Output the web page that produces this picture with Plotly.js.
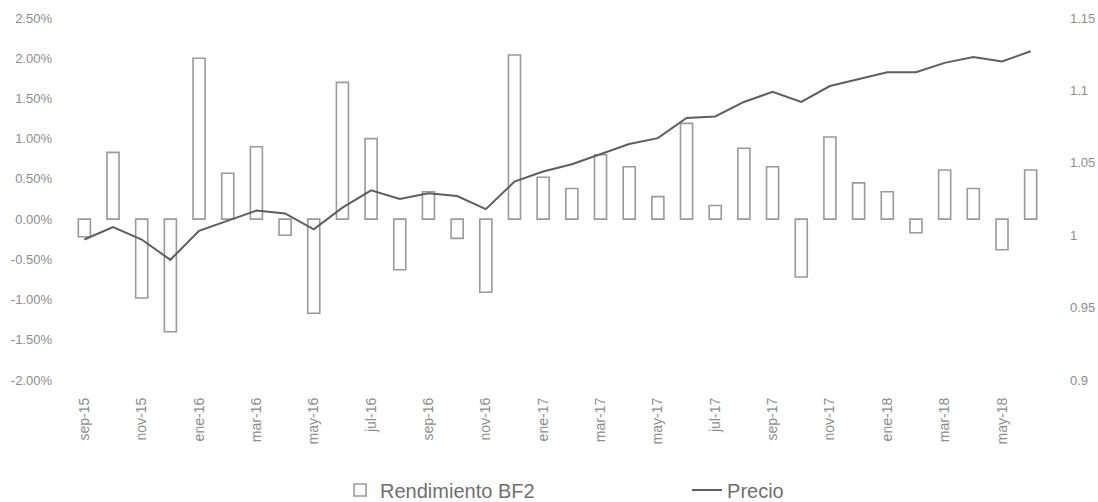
<!DOCTYPE html>
<html>
<head>
<meta charset="utf-8">
<script src="https://cdn.plot.ly/plotly-3.0.1.min.js"></script>
<style>html,body{margin:0;padding:0;background:#fff;}#chart{width:1098px;height:502px;}</style>
</head>
<body>
<div id="chart"></div>
<script>
const months = ["sep-15","oct-15","nov-15","dic-15","ene-16","feb-16","mar-16","abr-16","may-16","jun-16","jul-16","ago-16","sep-16","oct-16","nov-16","dic-16","ene-17","feb-17","mar-17","abr-17","may-17","jun-17","jul-17","ago-17","sep-17","oct-17","nov-17","dic-17","ene-18","feb-18","mar-18","abr-18","may-18","jun-18"];
const rendimiento = [-0.22, 0.83, -0.98, -1.40, 2.00, 0.57, 0.90, -0.20, -1.17, 1.70, 1.00, -0.63, 0.34, -0.24, -0.91, 2.04, 0.52, 0.38, 0.80, 0.65, 0.28, 1.19, 0.17, 0.88, 0.65, -0.72, 1.02, 0.45, 0.34, -0.17, 0.61, 0.38, -0.38, 0.61];
const precio = [0.997, 1.0056, 0.997, 0.983, 1.003, 1.010, 1.017, 1.015, 1.004, 1.019, 1.031, 1.025, 1.029, 1.027, 1.018, 1.037, 1.044, 1.049, 1.056, 1.063, 1.067, 1.081, 1.082, 1.092, 1.099, 1.092, 1.103, 1.108, 1.1125, 1.1125, 1.119, 1.123, 1.120, 1.127];
const xTickLabels = months.filter((m, i) => i % 2 === 0);
const leftTicks = [-2, -1.5, -1, -0.5, 0, 0.5, 1, 1.5, 2, 2.5];
const rightTickVals = [0.9, 0.95, 1, 1.05, 1.1, 1.15];
const rightTickText = ["0.9", "0.95", "1", "1.05", "1.1", "1.15"];

const tickFont = {family: "'Liberation Sans', Arial, sans-serif", size: 13, color: "#8c8c8c"};

const data = [
  {
    type: "bar", name: "Rendimiento BF2", x: months, y: rendimiento,
    marker: {color: "rgba(255,255,255,0)", line: {color: "#9a9a9a", width: 1.6}},
    yaxis: "y"
  },
  {
    type: "scatter", mode: "lines", name: "Precio", x: months, y: precio,
    line: {color: "#5e5e5e", width: 2},
    yaxis: "y2"
  }
];

const layout = {
  width: 1098, height: 502,
  margin: {l: 70, r: 53, t: 18, b: 122, autoexpand: false},
  paper_bgcolor: "#ffffff", plot_bgcolor: "#ffffff",
  bargap: 0.58,
  showlegend: true,
  legend: {
    orientation: "h", xref: "container", yref: "container",
    x: 0.3097, xanchor: "left", y: 0.024, yanchor: "middle",
    font: {family: "'Liberation Sans', Arial, sans-serif", size: 20, color: "#6f6f6f"},
    entrywidth: 302, entrywidthmode: "pixels", traceorder: "normal"
  },
  xaxis: {
    type: "category", tickmode: "array", tickvals: xTickLabels, ticktext: xTickLabels,
    tickangle: -90, tickfont: {family: tickFont.family, size: 14, color: "#8c8c8c"},
    showgrid: false, zeroline: false, showline: false,
    ticks: "", ticklabelstandoff: 14
  },
  yaxis: {
    range: [-2, 2.5], tickmode: "array", tickvals: leftTicks,
    ticktext: leftTicks.map(v => v.toFixed(2) + "%"),
    tickfont: tickFont, showgrid: false, zeroline: false, showline: false, ticks: "",
    ticklabelstandoff: 17
  },
  yaxis2: {
    overlaying: "y", side: "right", range: [0.9, 1.15], tickmode: "array",
    tickvals: rightTickVals, ticktext: rightTickText,
    tickfont: tickFont, showgrid: false, zeroline: false, showline: false, ticks: "",
    ticklabelstandoff: 24
  }
};

Plotly.newPlot("chart", data, layout, {displayModeBar: false, staticPlot: true});
</script>
</body>
</html>
